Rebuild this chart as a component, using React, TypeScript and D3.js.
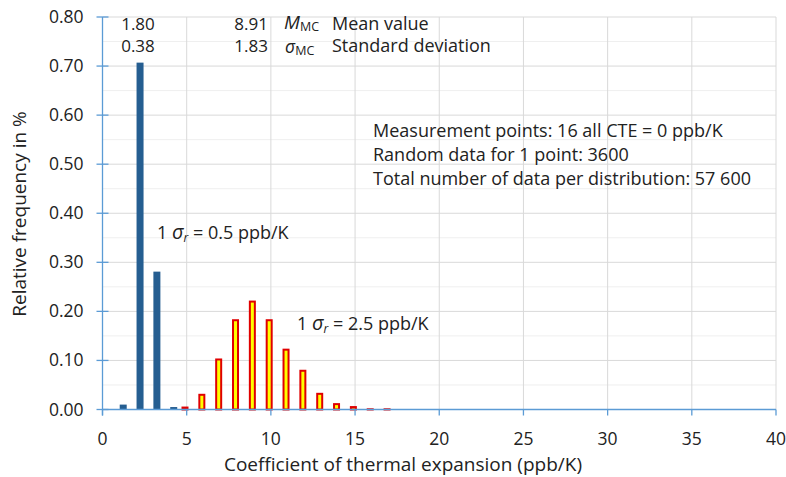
import { useEffect, useRef } from "react";
import * as d3 from "d3";

// sigma_r = 0.5 ppb/K distribution (blue)
const narrowBins = [1, 2, 3, 4];
const narrowFreq = [0.01, 0.707, 0.281, 0.005];

// sigma_r = 2.5 ppb/K distribution (yellow)
const wideBins = [5, 6, 7, 8, 9, 10, 11, 12, 13, 14, 15, 16, 17];
const wideFreq = [0.006, 0.032, 0.104, 0.184, 0.222, 0.184, 0.124, 0.081, 0.034, 0.013, 0.007, 0.0025, 0.0025];

const xTicks = [0, 5, 10, 15, 20, 25, 30, 35, 40];
const yTicks = [0, 0.1, 0.2, 0.3, 0.4, 0.5, 0.6, 0.7, 0.8];
const yMinor = [0.05, 0.15, 0.25, 0.35, 0.45, 0.55, 0.65, 0.75];

const infoLines = [
  "Measurement points: 16 all CTE = 0 ppb/K",
  "Random data for 1 point: 3600",
  "Total number of data per distribution: 57 600",
];

const FONT = "'Open Sans', sans-serif";

export default function App() {
  const ref = useRef<SVGSVGElement>(null);

  useEffect(() => {
    document.body.style.margin = "0";
    const svg = d3.select(ref.current);
    svg.selectAll("*").remove();

    const width = 786,
      height = 477;
    svg.attr("width", width).attr("height", height).style("font-family", FONT);

    const x = d3.scaleLinear().domain([0, 40]).range([102.5, 776]);
    const y = d3.scaleLinear().domain([0, 0.8]).range([409.5, 17]);

    // gridlines
    svg
      .append("g")
      .selectAll("line")
      .data(yMinor)
      .enter()
      .append("line")
      .attr("x1", x(0))
      .attr("x2", x(40))
      .attr("y1", (d) => y(d))
      .attr("y2", (d) => y(d))
      .attr("stroke", "#efefef")
      .attr("stroke-width", 1);

    svg
      .append("g")
      .selectAll("line")
      .data(yTicks.slice(1))
      .enter()
      .append("line")
      .attr("x1", x(0))
      .attr("x2", x(40))
      .attr("y1", (d) => y(d))
      .attr("y2", (d) => y(d))
      .attr("stroke", "#d9d9d9")
      .attr("stroke-width", 1);

    svg
      .append("g")
      .selectAll("line")
      .data(xTicks.slice(1))
      .enter()
      .append("line")
      .attr("x1", (d) => x(d))
      .attr("x2", (d) => x(d))
      .attr("y1", y(0))
      .attr("y2", y(0.8))
      .attr("stroke", "#d9d9d9")
      .attr("stroke-width", 1);

    // bars
    const barW = 7;
    svg
      .append("g")
      .selectAll("rect")
      .data(narrowBins)
      .enter()
      .append("rect")
      .attr("x", (d) => x(d + 0.23) - barW / 2)
      .attr("y", (d, i) => y(narrowFreq[i]))
      .attr("width", barW)
      .attr("height", (d, i) => y(0) - y(narrowFreq[i]))
      .attr("fill", "#255e91");

    svg
      .append("g")
      .selectAll("rect")
      .data(wideBins)
      .enter()
      .append("rect")
      .attr("x", (d) => x(d - 0.1) - barW / 2 + 1)
      .attr("y", (d, i) => y(wideFreq[i]) + 1)
      .attr("width", barW - 2)
      .attr("height", (d, i) => Math.max(0, y(0) - y(wideFreq[i]) - 1))
      .attr("fill", "#ffff00")
      .attr("stroke", "#e00000")
      .attr("stroke-width", 2);

    // axes
    const axisColor = "#5b9bd5";
    const ax = svg.append("g");
    ax.append("line")
      .attr("x1", x(0))
      .attr("x2", x(40))
      .attr("y1", y(0))
      .attr("y2", y(0))
      .attr("stroke", axisColor)
      .attr("stroke-width", 1.3);
    ax.append("line")
      .attr("x1", x(0))
      .attr("x2", x(0))
      .attr("y1", y(0) + 6)
      .attr("y2", y(0.8))
      .attr("stroke", axisColor)
      .attr("stroke-width", 1.3);
    ax.selectAll(".xt")
      .data(xTicks)
      .enter()
      .append("line")
      .attr("x1", (d) => x(d))
      .attr("x2", (d) => x(d))
      .attr("y1", y(0))
      .attr("y2", y(0) + 6)
      .attr("stroke", axisColor)
      .attr("stroke-width", 1.3);
    ax.selectAll(".yt")
      .data(yTicks)
      .enter()
      .append("line")
      .attr("x1", x(0) - 6)
      .attr("x2", x(0) + 6)
      .attr("y1", (d) => y(d))
      .attr("y2", (d) => y(d))
      .attr("stroke", axisColor)
      .attr("stroke-width", 1.3);

    ax.selectAll(".xl")
      .data(xTicks)
      .enter()
      .append("text")
      .attr("x", (d) => x(d))
      .attr("y", y(0) + 35)
      .attr("text-anchor", "middle")
      .style("font-size", "17.5px")
      .attr("fill", "#222")
      .text((d) => d);
    ax.selectAll(".yl")
      .data(yTicks)
      .enter()
      .append("text")
      .attr("x", x(0) - 19)
      .attr("y", (d) => y(d) + 6)
      .attr("text-anchor", "end")
      .style("font-size", "17.5px")
      .attr("fill", "#222")
      .text((d) => d3.format(".2f")(d));

    // axis titles
    svg
      .append("text")
      .attr("x", 403)
      .attr("y", 471)
      .attr("text-anchor", "middle")
      .style("font-size", "19px")
      .attr("fill", "#222")
      .text("Coefficient of thermal expansion (ppb/K)");
    svg
      .append("text")
      .attr("transform", "translate(26,214) rotate(-90)")
      .attr("text-anchor", "middle")
      .style("font-size", "19px")
      .attr("fill", "#222")
      .text("Relative frequency in %");

    // statistics header
    const t = svg.append("g").style("font-size", "18px").attr("fill", "#222");
    const h = svg.append("g").style("font-size", "17px").attr("fill", "#222");
    h.append("text").attr("x", 138).attr("y", 30).attr("text-anchor", "middle").text("1.80");
    h.append("text").attr("x", 138).attr("y", 52).attr("text-anchor", "middle").text("0.38");
    h.append("text").attr("x", 268).attr("y", 30).attr("text-anchor", "end").text("8.91");
    h.append("text").attr("x", 268).attr("y", 52).attr("text-anchor", "end").text("1.83");

    const m = h.append("text").attr("x", 284).attr("y", 29);
    m.append("tspan").style("font-style", "italic").style("font-size", "19px").text("M");
    m.append("tspan").attr("dy", 2).style("font-size", "12.5px").text("MC");
    h.append("text").attr("x", 332).attr("y", 30).style("font-size", "18px").text("Mean value");

    const s = h.append("text").attr("x", 285).attr("y", 53);
    s.append("tspan").style("font-style", "italic").style("font-size", "17.5px").text("σ");
    s.append("tspan").attr("dy", 2).style("font-size", "12.5px").text("MC");
    h.append("text").attr("x", 332).attr("y", 52).style("font-size", "18px").text("Standard deviation");

    // info block
    t.selectAll(".info")
      .data(infoLines)
      .enter()
      .append("text")
      .attr("x", 373)
      .attr("y", (d, i) => 137 + i * 24)
      .text((d) => d);

    // sigma_r labels
    const sigmaLabel = (px: number, py: number, val: string) => {
      const g = t.append("text").attr("x", px).attr("y", py);
      g.append("tspan").text("1 ");
      g.append("tspan").style("font-style", "italic").style("font-size", "20px").text("σ");
      g.append("tspan").attr("dy", 3).style("font-style", "italic").style("font-size", "12px").text("r");
      g.append("tspan").attr("dy", -3).text(` = ${val} ppb/K`);
    };
    sigmaLabel(157, 239, "0.5");
    sigmaLabel(297, 330, "2.5");
  }, []);

  return <svg ref={ref} style={{ display: "block" }} />;
}
